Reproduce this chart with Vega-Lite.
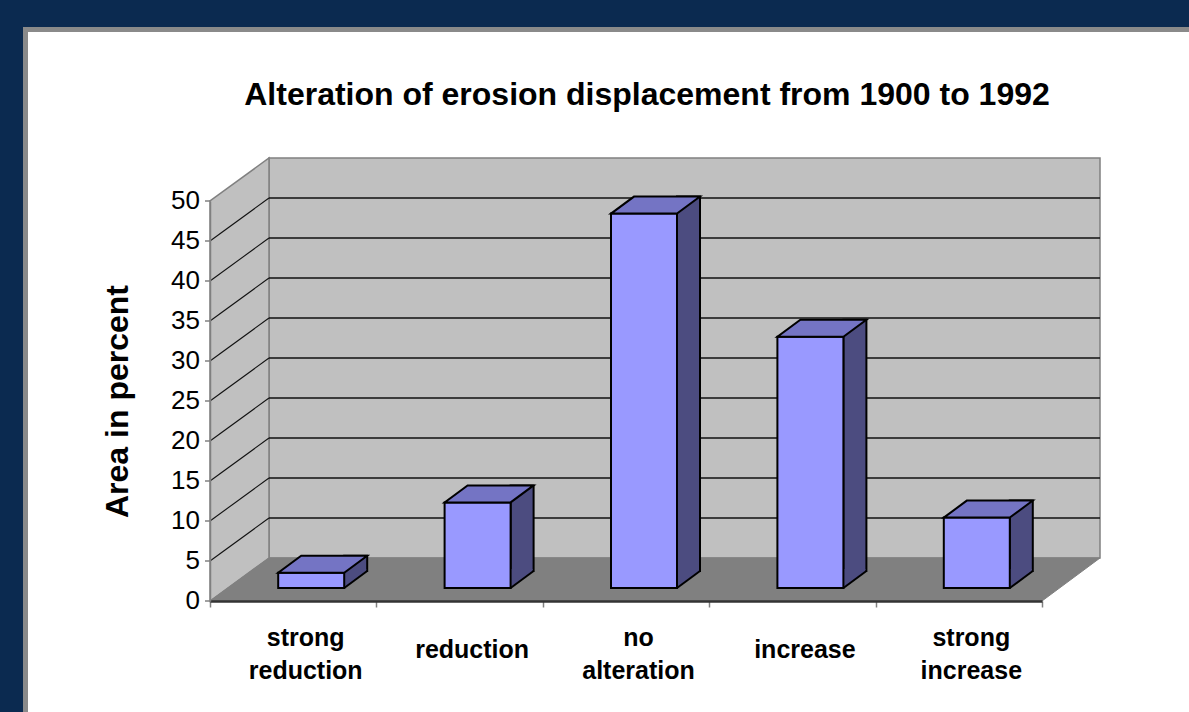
{
  "$schema": "https://vega.github.io/schema/vega-lite/v6.json",
  "width": 832,
  "height": 400,
  "autosize": {"type": "none"},
  "padding": {"left": 210, "top": 201, "right": 147, "bottom": 111},
  "background": "#0b2a50",
  "title": {
    "text": "Alteration of erosion displacement from 1900 to 1992",
    "font": "Liberation Sans",
    "fontSize": 32,
    "fontWeight": "bold",
    "color": "black",
    "anchor": "middle",
    "baseline": "alphabetic",
    "dx": 21,
    "dy": 137,
    "offset": 20
  },
  "datasets": {
    "bars": [
      {"category": "strong reduction", "value": 1.9},
      {"category": "reduction", "value": 10.7},
      {"category": "no alteration", "value": 46.8},
      {"category": "increase", "value": 31.4},
      {"category": "strong increase", "value": 8.8}
    ],
    "gridvals": [
      {"v": 5}, {"v": 10}, {"v": 15}, {"v": 20}, {"v": 25},
      {"v": 30}, {"v": 35}, {"v": 40}, {"v": 45}
    ],
    "yticks": [
      {"tick": 0}, {"tick": 5}, {"tick": 10}, {"tick": 15}, {"tick": 20}, {"tick": 25},
      {"tick": 30}, {"tick": 35}, {"tick": 40}, {"tick": 45}, {"tick": 50}
    ],
    "frame": [{"piece": "frame"}]
  },
  "config": {
    "view": {"stroke": null},
    "font": "Liberation Sans",
    "axisY": {
      "labels": false,
      "ticks": false,
      "domainColor": "#808080",
      "domainWidth": 1.5,
      "grid": false,
      "zindex": 1
    }
  },
  "layer": [
    {
      "data": {"name": "frame"},
      "mark": {"type": "point", "shape": "M-600.5,-571.5 H600 V130 H-600.5 Z", "size": 4, "filled": true, "fill": "white", "stroke": "#8a8a8a", "strokeWidth": 5, "opacity": 1},
      "encoding": {
        "y": {"datum": 0, "type": "quantitative"}
      }
    },
    {
      "data": {"name": "frame"},
      "mark": {"type": "point", "shape": "M-357,-443 H474 V-43 H-357 Z", "size": 4, "filled": true, "fill": "#c0c0c0", "stroke": "#808080", "strokeWidth": 1.5, "opacity": 1},
      "encoding": {
        "y": {"datum": 0, "type": "quantitative"}
      }
    },
    {
      "data": {"name": "frame"},
      "mark": {"type": "point", "shape": "M-416,0 V-400 L-357,-443 V-43 Z", "size": 4, "filled": true, "fill": "#c0c0c0", "stroke": "#808080", "strokeWidth": 1.5, "opacity": 1},
      "encoding": {
        "y": {"datum": 0, "type": "quantitative"}
      }
    },
    {
      "data": {"name": "frame"},
      "mark": {"type": "point", "shape": "M-416,0 L-357,-43 H474 L416,0 Z", "size": 4, "filled": true, "fill": "#808080", "stroke": "#808080", "strokeWidth": 1, "opacity": 1},
      "encoding": {
        "y": {"datum": 0, "type": "quantitative"}
      }
    },
    {
      "data": {"name": "gridvals"},
      "mark": {"type": "point", "shape": "M-357,-43 H474", "size": 4, "filled": false, "stroke": "#111111", "strokeWidth": 1.3, "opacity": 1},
      "encoding": {
        "y": {"field": "v", "type": "quantitative"}
      }
    },
    {
      "data": {"name": "gridvals"},
      "mark": {"type": "point", "shape": "M-416,0 L-357,-43", "size": 4, "filled": false, "stroke": "#111111", "strokeWidth": 1.1, "opacity": 1},
      "encoding": {
        "y": {"field": "v", "type": "quantitative"}
      }
    },
    {
      "data": {"name": "yticks"},
      "mark": {"type": "point", "shape": "M-421,0 H-416", "size": 4, "filled": false, "stroke": "#808080", "strokeWidth": 1.5, "opacity": 1},
      "encoding": {
        "y": {"field": "tick", "type": "quantitative"}
      }
    },
    {
      "data": {"name": "yticks"},
      "mark": {"type": "text", "align": "right", "baseline": "middle", "dx": -426, "font": "Liberation Sans", "fontSize": 26, "color": "black"},
      "encoding": {
        "y": {"field": "tick", "type": "quantitative"},
        "text": {"field": "tick", "type": "quantitative"}
      }
    },
    {
      "data": {"name": "bars"},
      "mark": {"type": "bar", "width": 23, "xOffset": 62.5, "yOffset": -30, "y2Offset": -30, "fill": "#4c4c80", "stroke": "black", "strokeWidth": 2},
      "encoding": {
        "x": {"field": "category", "type": "nominal"},
        "y": {"field": "value", "type": "quantitative"},
        "y2": {"datum": 0}
      }
    },
    {
      "data": {"name": "bars"},
      "mark": {"type": "point", "shape": "M51,-13 L73,-29.3 L73,-32 L51,-32 Z", "size": 4, "filled": true, "fill": "#4c4c80", "strokeWidth": 0, "opacity": 1},
      "encoding": {
        "x": {"field": "category", "type": "nominal"},
        "y": {"datum": 0, "type": "quantitative"}
      }
    },
    {
      "data": {"name": "bars"},
      "mark": {"type": "point", "shape": "M51,-13 L74,-30", "size": 4, "filled": false, "stroke": "black", "strokeWidth": 2, "opacity": 1},
      "encoding": {
        "x": {"field": "category", "type": "nominal"},
        "y": {"datum": 0, "type": "quantitative"}
      }
    },
    {
      "data": {"name": "bars"},
      "mark": {"type": "bar", "width": 66, "xOffset": 18, "yOffset": -13, "y2Offset": -13, "fill": "#9999ff", "stroke": "black", "strokeWidth": 2},
      "encoding": {
        "x": {
          "field": "category",
          "type": "nominal",
          "sort": null,
          "scale": {"domain": ["strong reduction", "reduction", "no alteration", "increase", "strong increase"], "paddingInner": 0, "paddingOuter": 0},
          "axis": {
            "title": null,
            "orient": "bottom",
            "labelExpr": "split(datum.label, ' ')",
            "labelFont": "Liberation Sans",
            "labelFontSize": 25,
            "labelFontWeight": "bold",
            "labelColor": "black",
            "labelLineHeight": 33,
            "labelBaseline": {"condition": {"test": "indexof(datum.label, ' ') < 0", "value": "top"}, "value": "middle"},
            "labelAngle": 0,
            "labelAlign": "center",
            "labelOffset": 12,
            "labelPadding": 30,
            "labelOverlap": false,
            "tickBand": "extent",
            "tickSize": 6,
            "tickColor": "#808080",
            "tickWidth": 1.5,
            "domainColor": "#333333",
            "domainWidth": 2.5,
            "zindex": 1
          }
        },
        "y": {
          "field": "value",
          "type": "quantitative",
          "scale": {"domain": [0, 50], "nice": false},
          "axis": {
            "title": "Area in percent",
            "titleFont": "Liberation Sans",
            "titleFontSize": 32,
            "titleFontWeight": "bold",
            "titleColor": "black",
            "titleAngle": -90,
            "titleX": -93,
            "titleY": 200,
            "titleAlign": "center",
            "titleBaseline": "middle",
            "labels": false,
            "ticks": false,
            "zindex": 1
          }
        },
        "y2": {"datum": 0}
      }
    },
    {
      "data": {"name": "bars"},
      "mark": {"type": "point", "shape": "M-15,-13 L51,-13 L74,-30 L8,-30 Z", "size": 4, "filled": true, "fill": "#7474c4", "stroke": "black", "strokeWidth": 2, "opacity": 1},
      "encoding": {
        "x": {"field": "category", "type": "nominal"},
        "y": {"field": "value", "type": "quantitative"}
      }
    }
  ]
}
